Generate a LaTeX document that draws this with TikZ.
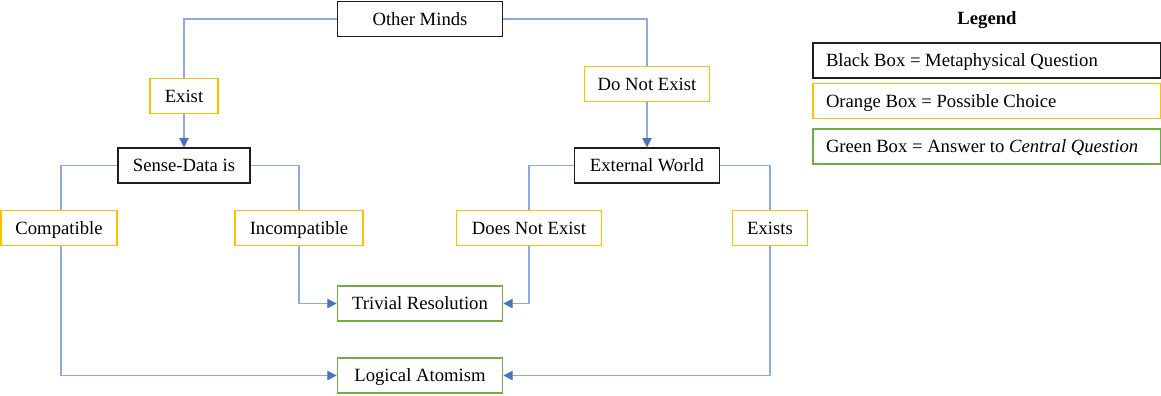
\documentclass[tikz,border=0pt]{standalone}
\usepackage{fontspec}
\setmainfont{Liberation Serif}
\usetikzlibrary{arrows.meta}
\definecolor{qblack}{RGB}{30,30,30}
\definecolor{corange}{RGB}{255,192,0}
\definecolor{agreen}{RGB}{112,173,71}
\definecolor{linkblue}{RGB}{143,170,220}
\definecolor{tipblue}{RGB}{68,114,196}
\newcommand\legtext[1]{\makebox[241.5pt][l]{#1}}
\tikzset{
  box/.style={draw, line width=1.1pt, minimum height=26pt, inner sep=0pt, text height=9.5pt, text depth=0pt, fill=white, font=\fontsize{14}{17}\selectfont},
  qbox/.style={box, draw=qblack},
  cbox/.style={box, draw=corange},
  abox/.style={box, draw=agreen},
  lbox/.style={inner xsep=9.75pt},
  link/.style={draw=linkblue, line width=0.8pt},
  arrow/.style={link, -{Triangle[width=7pt,length=7pt,color=tipblue]}}
}

\begin{document}
\begin{tikzpicture}[x=0.75pt, y=-0.75pt]
  \useasboundingbox (0,0) rectangle (1161,396);
  % questions
  \node[qbox, minimum width=124pt] (om) at (420,19) {Other Minds};
  \node[qbox, minimum width=99pt] (sd) at (184,165.5) {Sense-Data is};
  \node[qbox, minimum width=109pt] (ew) at (647,165.5) {External World};
  % choices
  \node[cbox, minimum width=51pt] (ex) at (184,96) {Exist};
  \node[cbox, minimum width=94pt] (dne) at (647,84) {Do Not Exist};
  \node[cbox, minimum width=87pt] (comp) at (59,228) {Compatible};
  \node[cbox, minimum width=96pt] (incomp) at (299,228) {Incompatible};
  \node[cbox, minimum width=109pt] (dnex) at (529,228) {Does Not Exist};
  \node[cbox, minimum width=56pt] (exs) at (770,228) {Exists};
  % answers
  \node[abox, minimum width=124pt] (triv) at (420,303.5) {Trivial Resolution};
  \node[abox, minimum width=124pt] (logic) at (420,375.5) {Logical Atomism};
  % connectors
  \draw[link] (om.west) -| (ex.north);
  \draw[link] (om.east) -| (dne.north);
  \draw[arrow] (ex) -- (sd);
  \draw[arrow] (dne) -- (ew);
  \draw[link] (sd.west) -| ([xshift=1.5pt]comp.north);
  \draw[link] (sd.east) -| (incomp.north);
  \draw[link] (ew.west) -| (dnex.north);
  \draw[link] (ew.east) -| (exs.north);
  \draw[arrow] (incomp.south) |- (triv.west);
  \draw[arrow] (dnex.south) |- (triv.east);
  \draw[arrow] ([xshift=1.5pt]comp.south) |- (logic.west);
  \draw[arrow] (exs.south) |- (logic.east);
  % legend
  \node[font=\fontsize{14}{17}\selectfont\bfseries] (leg) at (987,20) {Legend};
  \node[qbox, lbox] (lq) at (987,60.5) {\legtext{Black Box = Metaphysical Question}};
  \node[cbox, lbox] (lc) at (987,101) {\legtext{Orange Box = Possible Choice}};
  \node[abox, lbox] (la) at (987,146.5) {\legtext{Green Box = Answer to \textit{Central Question}}};
\end{tikzpicture}
\end{document}
